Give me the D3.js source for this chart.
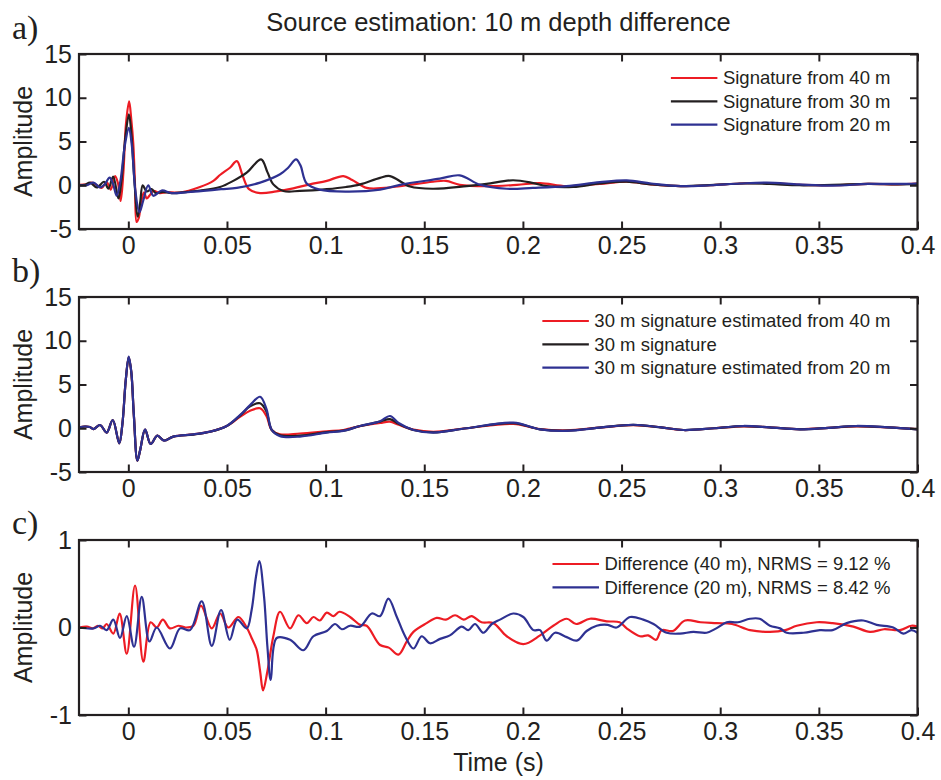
<!DOCTYPE html>
<html><head><meta charset="utf-8">
<script src="https://cdn.jsdelivr.net/npm/d3@7"></script>
<style>
html,body{margin:0;padding:0;background:#fff;}
svg{display:block;}
text{font-family:"Liberation Sans",Arial,Helvetica,sans-serif;fill:#231f20;}
</style></head><body>
<svg id="chart" width="941" height="780"></svg>
<script>
// ---------------- DATA ----------------
const titleText = "Source estimation: 10 m depth difference";
const xLabelText = "Time (s)";
const yLabelText = "Amplitude";
const panelLetters = ["a)", "b)", "c)"];
const xDomain = [-0.025, 0.4];
const xTickValues = [0, 0.05, 0.1, 0.15, 0.2, 0.25, 0.3, 0.35, 0.4];
const xTickLabels = ["0", "0.05", "0.1", "0.15", "0.2", "0.25", "0.3", "0.35", "0.4"];
const yTicksAB = [-5, 0, 5, 10, 15];
const yTickLabelsAB = ["-5", "0", "5", "10", "15"];
const yTicksC = [-1, 0, 1];
const yTickLabelsC = ["-1", "0", "1"];

const legendA = ["Signature from 40 m", "Signature from 30 m", "Signature from 20 m"];
const legendB = ["30 m signature estimated from 40 m", "30 m signature", "30 m signature estimated from 20 m"];
const legendC = ["Difference (40 m), NRMS = 9.12 %", "Difference (20 m), NRMS = 8.42 %"];

// panel a: [time (s), amplitude]
const sigFrom40 = [[-0.025,0.05],[-0.021,0.1],[-0.0185,0.3],[-0.016,0.0],[-0.0135,-0.3],[-0.011,0.35],[-0.0089,-0.5],[-0.0067,1.05],[-0.0052,0.2],[-0.0039,-1.8],[-0.0025,1.5],[-0.0012,7.0],[0.0004,9.6],[0.0015,7.5],[0.0025,4.8],[0.0034,0.0],[0.0042,-4.2],[0.0052,-3.8],[0.0068,-1.6],[0.008,-0.8],[0.0093,-1.5],[0.011,-1.1],[0.0127,-0.65],[0.016,-0.9],[0.0195,-0.8],[0.0262,-0.83],[0.0363,-0.2],[0.0431,0.5],[0.0466,1.2],[0.0515,2.0],[0.055,2.75],[0.058,1.05],[0.0612,-0.45],[0.0668,-0.9],[0.075,-0.7],[0.0836,-0.35],[0.092,0.1],[0.1006,0.5],[0.109,1.05],[0.1135,0.6],[0.1208,-0.3],[0.13,-0.3],[0.1377,-0.1],[0.1545,0.4],[0.161,0.5],[0.168,0.05],[0.1816,-0.1],[0.197,0.05],[0.2087,0.25],[0.222,-0.1],[0.239,0.15],[0.2526,0.4],[0.265,0.1],[0.28,-0.1],[0.295,0.0],[0.31,0.2],[0.3236,0.25],[0.34,0.05],[0.357,0.0],[0.375,0.15],[0.39,0.1],[0.4,0.2]];
const sigFrom30 = [[-0.025,0.0],[-0.022,0.05],[-0.0194,0.3],[-0.016,-0.25],[-0.0123,0.4],[-0.0101,-0.4],[-0.0077,1.0],[-0.005,-1.5],[-0.0035,0.5],[-0.0015,5.5],[0.0003,8.1],[0.0015,6.0],[0.0028,1.5],[0.0048,-3.6],[0.006,-2.0],[0.0073,0.0],[0.0093,-0.7],[0.0118,-0.45],[0.014,-0.9],[0.0175,-0.75],[0.022,-0.9],[0.03,-0.75],[0.0363,-0.6],[0.0465,-0.2],[0.0532,0.5],[0.06,1.44],[0.0673,2.95],[0.0705,1.5],[0.0735,0.1],[0.0786,-0.65],[0.087,-0.65],[0.1006,-0.45],[0.1104,-0.2],[0.1175,0.1],[0.1276,0.85],[0.1326,1.05],[0.1428,-0.15],[0.1545,-0.4],[0.1715,-0.1],[0.1816,0.15],[0.195,0.57],[0.2053,0.25],[0.212,-0.1],[0.2255,-0.2],[0.239,0.2],[0.2526,0.4],[0.265,0.1],[0.28,-0.1],[0.297,0.05],[0.312,0.2],[0.325,0.15],[0.34,0.0],[0.357,0.05],[0.375,0.15],[0.39,0.1],[0.4,0.15]];
const sigFrom20 = [[-0.025,0.0],[-0.021,0.0],[-0.0177,0.3],[-0.0143,-0.25],[-0.012,0.1],[-0.0095,0.87],[-0.0078,0.2],[-0.0059,-1.2],[-0.004,0.5],[-0.0018,4.5],[0.0003,6.55],[0.0018,4.5],[0.0035,-0.5],[0.0056,-3.1],[0.0075,-1.8],[0.0101,0.0],[0.0127,-1.2],[0.0169,-0.6],[0.022,-0.9],[0.03,-0.8],[0.038,-0.65],[0.047,-0.45],[0.055,-0.3],[0.0668,0.3],[0.0769,1.25],[0.081,2.0],[0.085,2.95],[0.0872,2.3],[0.0904,0.2],[0.097,-0.5],[0.1107,-0.72],[0.1276,-0.5],[0.1377,0.05],[0.1579,0.75],[0.168,1.13],[0.1783,0.05],[0.1918,-0.4],[0.205,-0.3],[0.222,-0.1],[0.239,0.35],[0.2526,0.55],[0.265,0.2],[0.28,-0.1],[0.295,0.0],[0.31,0.2],[0.3236,0.3],[0.34,0.1],[0.357,-0.05],[0.375,0.15],[0.39,0.15],[0.4,0.2]];

// panel b
const est30From40 = [[-0.025,0.1],[-0.022,0.2],[-0.0195,0.15],[-0.0177,-0.1],[-0.0143,0.37],[-0.011,-0.5],[-0.0079,0.94],[-0.0046,-1.72],[-0.003,0.5],[-0.0013,5.5],[0.0002,8.1],[0.0015,6.4],[0.0028,1.5],[0.0046,-3.7],[0.006,-2.5],[0.0085,-0.15],[0.0113,-1.8],[0.0147,-0.85],[0.0181,-1.4],[0.0228,-0.96],[0.033,-0.7],[0.0414,-0.39],[0.0499,0.26],[0.0566,1.3],[0.0617,2.0],[0.0668,2.28],[0.07,1.4],[0.0727,-0.2],[0.0769,-0.7],[0.087,-0.6],[0.1006,-0.35],[0.109,-0.2],[0.1175,0.25],[0.1276,0.6],[0.1326,0.75],[0.137,0.4],[0.1445,-0.15],[0.1546,-0.4],[0.1715,0.0],[0.1951,0.5],[0.2087,-0.1],[0.2222,-0.25],[0.24,0.1],[0.256,0.35],[0.27,0.1],[0.2813,-0.2],[0.297,0.0],[0.3117,0.22],[0.325,0.1],[0.3404,-0.1],[0.355,0.05],[0.369,0.22],[0.385,0.1],[0.4,-0.1]];
const sig30 = [[-0.025,0.1],[-0.022,0.2],[-0.0195,0.15],[-0.0177,-0.1],[-0.0143,0.37],[-0.011,-0.5],[-0.0079,0.94],[-0.0046,-1.72],[-0.003,0.5],[-0.0013,5.5],[0.0002,8.1],[0.0015,6.4],[0.0028,1.5],[0.0046,-3.7],[0.006,-2.5],[0.0085,-0.15],[0.0113,-1.8],[0.0147,-0.85],[0.0181,-1.4],[0.0228,-0.96],[0.033,-0.72],[0.0414,-0.4],[0.0499,0.26],[0.0566,1.45],[0.0617,2.5],[0.0668,2.85],[0.07,1.9],[0.0727,-0.2],[0.0769,-0.8],[0.087,-0.85],[0.1006,-0.45],[0.109,-0.28],[0.1175,0.26],[0.1276,0.75],[0.1326,1.05],[0.137,0.5],[0.1445,-0.2],[0.1546,-0.48],[0.1715,0.0],[0.1951,0.58],[0.2087,-0.12],[0.2222,-0.28],[0.24,0.1],[0.256,0.38],[0.27,0.1],[0.2813,-0.2],[0.297,0.0],[0.3117,0.25],[0.325,0.1],[0.3404,-0.12],[0.355,0.05],[0.369,0.25],[0.385,0.1],[0.4,-0.12]];
const est30From20 = [[-0.025,0.1],[-0.022,0.2],[-0.0195,0.15],[-0.0177,-0.1],[-0.0143,0.37],[-0.011,-0.5],[-0.0079,0.94],[-0.0046,-1.72],[-0.003,0.5],[-0.0013,5.5],[0.0002,8.2],[0.0015,6.5],[0.0028,1.5],[0.0046,-3.7],[0.006,-2.5],[0.0085,-0.13],[0.0113,-1.8],[0.0147,-0.85],[0.0181,-1.42],[0.0228,-0.96],[0.033,-0.7],[0.0414,-0.39],[0.0499,0.26],[0.0566,1.5],[0.0617,2.65],[0.0668,3.6],[0.07,2.2],[0.0727,-0.2],[0.0769,-0.9],[0.087,-0.95],[0.1006,-0.5],[0.109,-0.3],[0.1175,0.26],[0.1276,0.8],[0.1326,1.4],[0.137,0.6],[0.1445,-0.2],[0.1546,-0.5],[0.1715,0.0],[0.1951,0.64],[0.2087,-0.13],[0.2222,-0.3],[0.24,0.1],[0.256,0.4],[0.27,0.1],[0.2813,-0.2],[0.297,0.0],[0.3117,0.26],[0.325,0.1],[0.3404,-0.13],[0.355,0.05],[0.369,0.26],[0.385,0.1],[0.4,-0.13]];

// panel c
const diff40 = [[-0.025,0.0],[-0.021,0.01],[-0.018,-0.01],[-0.0155,0.02],[-0.013,-0.01],[-0.011,0.04],[-0.0076,-0.07],[-0.0044,0.16],[-0.0008,-0.3],[0.0034,0.48],[0.0076,-0.39],[0.0113,0.06],[0.0144,0.0],[0.0175,0.09],[0.0211,-0.01],[0.0254,0.02],[0.029,0.0],[0.033,0.02],[0.0368,0.25],[0.0423,-0.01],[0.0465,0.16],[0.0507,0.0],[0.0558,0.12],[0.06,0.0],[0.0625,-0.12],[0.065,-0.25],[0.0668,-0.5],[0.0683,-0.72],[0.0705,-0.5],[0.0735,-0.1],[0.0769,0.18],[0.082,-0.01],[0.0862,0.14],[0.0904,0.05],[0.0938,0.12],[0.097,0.08],[0.1006,0.17],[0.104,0.13],[0.107,0.18],[0.1124,0.12],[0.1175,0.03],[0.1208,0.02],[0.1276,-0.2],[0.132,-0.23],[0.1369,-0.31],[0.1411,-0.16],[0.1445,-0.05],[0.1512,0.05],[0.1563,0.11],[0.161,0.09],[0.1656,0.14],[0.17,0.09],[0.174,0.13],[0.179,0.06],[0.185,0.05],[0.1918,-0.1],[0.2002,-0.19],[0.2087,-0.09],[0.2154,0.02],[0.2222,0.1],[0.227,0.04],[0.234,0.1],[0.2425,0.07],[0.249,0.06],[0.2526,-0.01],[0.2593,-0.1],[0.2635,-0.09],[0.2675,-0.14],[0.2703,-0.03],[0.276,-0.04],[0.2822,0.08],[0.29,0.06],[0.2982,0.05],[0.306,0.04],[0.3151,-0.03],[0.3252,-0.05],[0.333,-0.03],[0.3388,0.02],[0.3489,0.06],[0.357,0.05],[0.3675,0.01],[0.3759,-0.05],[0.383,-0.02],[0.3911,-0.03],[0.3969,0.02],[0.4,0.01]];
const diff20 = [[-0.025,0.0],[-0.0177,-0.01],[-0.0143,0.02],[-0.011,-0.03],[-0.0076,0.09],[-0.0042,-0.12],[-0.0008,0.13],[0.0029,-0.22],[0.0068,0.35],[0.0107,-0.16],[0.0144,0.0],[0.0211,-0.24],[0.0262,-0.01],[0.0313,-0.03],[0.0372,0.3],[0.0423,-0.21],[0.047,0.2],[0.0514,-0.14],[0.0552,0.09],[0.06,-0.01],[0.0625,0.2],[0.0647,0.58],[0.0664,0.76],[0.0688,0.35],[0.0705,-0.22],[0.0722,-0.6],[0.0752,-0.12],[0.082,-0.14],[0.0887,-0.26],[0.0938,-0.1],[0.1006,-0.04],[0.1048,0.04],[0.1082,-0.02],[0.1124,0.02],[0.1175,0.01],[0.1234,0.16],[0.1276,0.13],[0.1318,0.33],[0.1361,0.12],[0.1403,-0.1],[0.1445,-0.24],[0.1487,-0.1],[0.1529,-0.18],[0.158,-0.13],[0.163,-0.09],[0.169,0.01],[0.1723,-0.03],[0.1757,0.04],[0.18,-0.06],[0.1842,0.04],[0.1884,0.09],[0.1951,0.16],[0.2002,0.12],[0.2053,-0.03],[0.2087,-0.03],[0.212,-0.15],[0.2163,-0.06],[0.2222,-0.11],[0.2273,-0.15],[0.2323,-0.04],[0.2374,0.02],[0.243,0.03],[0.2475,0.0],[0.2543,0.12],[0.261,0.09],[0.2662,0.04],[0.2729,-0.06],[0.2796,-0.07],[0.2864,-0.05],[0.2931,-0.06],[0.298,-0.01],[0.3033,0.06],[0.309,0.06],[0.3151,0.1],[0.32,0.1],[0.3252,0.02],[0.3303,-0.01],[0.3337,-0.06],[0.3422,-0.06],[0.3505,-0.03],[0.357,-0.03],[0.3641,0.05],[0.3725,0.08],[0.3793,0.03],[0.3877,0.0],[0.3928,-0.07],[0.3969,-0.03],[0.4,-0.06]];

const colRed = "#ed1c24", colBlack = "#231f20", colBlue = "#2e3192";

// ---------------- DRAWING ----------------
const svg = d3.select("#chart");
const X0 = 79, X1 = 917.5, PH = 175;
const x = d3.scaleLinear().domain(xDomain).range([X0, X1]);

const panels = [
  {top: 54, yDomain: [-5, 15], yTicks: yTicksAB, yLabels: yTickLabelsAB, letterY: 39,
   series: [{d: sigFrom40, c: colRed}, {d: sigFrom30, c: colBlack}, {d: sigFrom20, c: colBlue}], legend: legendA},
  {top: 297, yDomain: [-5, 15], yTicks: yTicksAB, yLabels: yTickLabelsAB, letterY: 282,
   series: [{d: est30From40, c: colRed}, {d: sig30, c: colBlack}, {d: est30From20, c: colBlue}], legend: legendB},
  {top: 540, yDomain: [-1, 1], yTicks: yTicksC, yLabels: yTickLabelsC, letterY: 534,
   series: [{d: diff40, c: colRed}, {d: diff20, c: colBlue}], legend: legendC}
];

svg.append("text").attr("x", 498.5).attr("y", 31).attr("text-anchor", "middle")
  .style("font-size", "25.5px").text(titleText);

const defs = svg.append("defs");
const TICK = 7.5;

panels.forEach((p, i) => {
  const top = p.top, bottom = top + PH;
  const y = d3.scaleLinear().domain(p.yDomain).range([bottom, top]);
  const line = d3.line().x(d => x(d[0])).y(d => y(d[1])).curve(d3.curveCatmullRom.alpha(0.5));

  defs.append("clipPath").attr("id", "clip" + i).append("rect")
    .attr("x", X0).attr("y", top).attr("width", X1 - X0).attr("height", PH);

  const g = svg.append("g");
  const cg = g.append("g").attr("clip-path", `url(#clip${i})`);
  p.series.forEach(s => {
    cg.append("path").datum(s.d).attr("fill", "none").attr("stroke", s.c)
      .attr("stroke-width", 2.2).attr("stroke-linejoin", "round").attr("d", line);
  });

  // axes (ticks inside, MATLAB style)
  const ax = g.append("g").attr("class", "axes");
  const bottomAxis = d3.axisBottom(x).tickValues(xTickValues)
    .tickFormat((d, k) => xTickLabels[k]).tickSizeInner(-TICK).tickSizeOuter(0).tickPadding(7.5);
  const topAxis = d3.axisTop(x).tickValues(xTickValues).tickFormat("").tickSizeInner(-TICK).tickSizeOuter(0);
  const leftAxis = d3.axisLeft(y).tickValues(p.yTicks)
    .tickFormat((d, k) => p.yLabels[k]).tickSizeInner(-TICK).tickSizeOuter(0).tickPadding(7);
  const rightAxis = d3.axisRight(y).tickValues(p.yTicks).tickFormat("").tickSizeInner(-TICK).tickSizeOuter(0);

  [ [bottomAxis, `translate(0,${bottom})`], [topAxis, `translate(0,${top})`],
    [leftAxis, `translate(${X0},0)`], [rightAxis, `translate(${X1},0)`] ].forEach(([a, tr]) => {
    const ag = ax.append("g").attr("transform", tr).call(a);
    ag.select(".domain").remove();
    ag.selectAll(".tick line").attr("stroke", "#231f20").attr("stroke-width", 2);
    ag.selectAll(".tick text").attr("fill", "#231f20")
      .style("font-size", "25px").style("font-family", '"Liberation Sans", Arial, sans-serif');
  });

  ax.append("rect").attr("x", X0).attr("y", top).attr("width", X1 - X0).attr("height", PH)
    .attr("fill", "none").attr("stroke", "#231f20").attr("stroke-width", 2.2);

  // y label
  svg.append("text").attr("transform", `translate(32,${top + PH / 2}) rotate(-90)`)
    .attr("text-anchor", "middle").style("font-size", "25px").text(yLabelText);

  // panel letter
  svg.append("text").attr("x", 12).attr("y", p.letterY)
    .style("font-family", '"Liberation Serif","DejaVu Serif",serif').style("font-size", "34px")
    .text(panelLetters[i]);

  // legend
  const lg = svg.append("g");
  const texts = p.legend.map((t, k) => lg.append("text").attr("y", top + 24 + k * 23.3).attr("dy", "0.35em")
    .style("font-size", "18.5px").text(t));
  const maxW = d3.max(texts, t => t.node().getComputedTextLength());
  const tx = 890.5 - maxW;
  texts.forEach((t, k) => {
    t.attr("x", tx);
    lg.append("line").attr("x1", tx - 52).attr("x2", tx - 5.5)
      .attr("y1", top + 24 + k * 23.3).attr("y2", top + 24 + k * 23.3)
      .attr("stroke", p.series[k].c).attr("stroke-width", 2.2);
  });
});

svg.append("text").attr("x", 498.5).attr("y", 771).attr("text-anchor", "middle")
  .style("font-size", "25px").text(xLabelText);
</script>
</body></html>
